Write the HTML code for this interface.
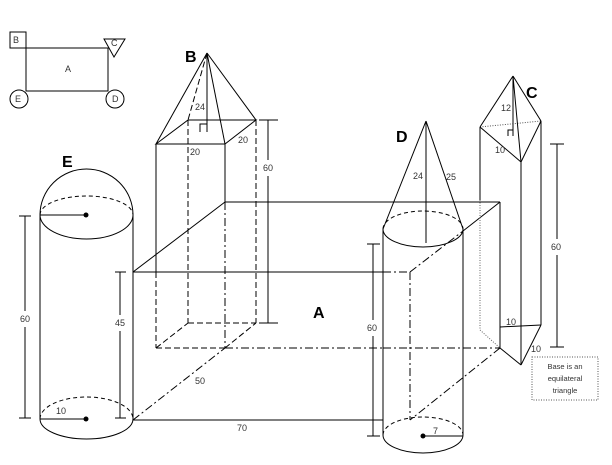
<!DOCTYPE html>
<html><head><meta charset="utf-8"><style>
html,body{margin:0;padding:0;background:#fff;}
svg{display:block;}
text{font-family:"Liberation Sans",sans-serif;fill:#333;}
.s{font-size:9px;}
.b{font-size:16px;font-weight:bold;fill:#000;}
</style></head><body>
<svg width="612" height="465" viewBox="0 0 612 465" xmlns="http://www.w3.org/2000/svg">
<g fill="none" stroke="#000" stroke-width="1">
<!-- legend -->
<rect x="10" y="32" width="16" height="16"/>
<rect x="26" y="48" width="82" height="43"/>
<polygon points="104,39 125,39 114,57"/>
<circle cx="19" cy="99" r="9" fill="#fff"/>
<circle cx="115" cy="99" r="9" fill="#fff"/>

<!-- Box A -->
<line x1="225" y1="202" x2="500" y2="202"/>
<line x1="133" y1="272" x2="225" y2="202"/>
<line x1="133" y1="272" x2="383" y2="272"/>
<line x1="500" y1="202" x2="500" y2="348"/>
<line x1="225" y1="202" x2="225" y2="348" stroke-dasharray="8,3,2,3"/>
<line x1="225" y1="348" x2="383" y2="348" stroke-dasharray="8,3,2,3"/>
<line x1="133" y1="420" x2="225" y2="348" stroke-dasharray="8,3,2,3"/>
<line x1="133" y1="420" x2="383" y2="420"/>

<!-- Prism B -->
<line x1="156" y1="144" x2="156" y2="272"/>
<line x1="156" y1="272" x2="156" y2="348" stroke-dasharray="6,3"/>
<line x1="225" y1="144" x2="225" y2="202"/>
<line x1="225" y1="202" x2="225" y2="348" stroke-dasharray="8,3,2,3"/>
<line x1="188" y1="120" x2="188" y2="323" stroke-dasharray="6,3"/>
<line x1="256" y1="120" x2="256" y2="323" stroke-dasharray="6,3"/>
<line x1="188" y1="323" x2="256" y2="323" stroke-dasharray="6,3"/>
<line x1="156" y1="348" x2="188" y2="323" stroke-dasharray="6,3"/>
<line x1="225" y1="348" x2="256" y2="323" stroke-dasharray="6,3"/>
<line x1="156" y1="348" x2="225" y2="348" stroke-dasharray="6,3"/>
<polygon points="156,144 188,120 256,120 225,144"/>
<line x1="207" y1="53" x2="156" y2="144"/>
<line x1="207" y1="53" x2="256" y2="120"/>
<line x1="207" y1="53" x2="225" y2="144"/>
<line x1="207" y1="53" x2="188" y2="120" stroke-dasharray="6,3"/>
<line x1="207" y1="53" x2="207" y2="132"/>
<polyline points="200,132 200,124 207,124"/>
<line x1="268" y1="120" x2="268" y2="160"/><line x1="268" y1="176" x2="268" y2="323"/>
<line x1="259" y1="120" x2="278" y2="120"/><line x1="259" y1="323" x2="278" y2="323"/>

<!-- Cylinder E -->
<path d="M40,215 A46.5,46 0 0 1 133,215"/>
<path d="M40,215 A46.5,19 0 0 1 133,215" stroke-dasharray="4,3"/>
<path d="M40,215 A46.5,24 0 0 0 133,215"/>
<line x1="40" y1="215" x2="40" y2="419"/>
<line x1="133" y1="215" x2="133" y2="420"/>
<path d="M40,419 A46.5,22 0 0 1 133,419" stroke-dasharray="4,3"/>
<path d="M40,419 A46.5,20 0 0 0 133,419"/>
<line x1="40" y1="215" x2="86" y2="215"/>
<line x1="40" y1="419" x2="86" y2="419"/>
<line x1="25" y1="216" x2="25" y2="311"/><line x1="25" y1="327" x2="25" y2="418"/>
<line x1="19" y1="216" x2="31" y2="216"/><line x1="19" y1="418" x2="31" y2="418"/>
<line x1="120" y1="272" x2="120" y2="315"/><line x1="120" y1="331" x2="120" y2="418"/>
<line x1="115" y1="272" x2="126" y2="272"/><line x1="115" y1="418" x2="126" y2="418"/>

<!-- Cylinder D -->
<path d="M383,229 A40,18 0 0 1 463,229" stroke-dasharray="4,3"/>
<path d="M383,229 A40,18 0 0 0 463,229"/>
<line x1="383" y1="229" x2="383" y2="435"/>
<line x1="463" y1="229" x2="463" y2="435"/>
<path d="M383,435 A40,18 0 0 1 463,435" stroke-dasharray="4,3"/>
<path d="M383,435 A40,18 0 0 0 463,435"/>
<line x1="423" y1="436" x2="463" y2="436"/>
<line x1="426" y1="121" x2="383" y2="229"/>
<line x1="426" y1="121" x2="463" y2="229"/>
<line x1="426" y1="121" x2="426" y2="243"/>
<line x1="410" y1="272" x2="410" y2="420" stroke-dasharray="8,3,2,3"/>
<line x1="383" y1="272" x2="410" y2="272" stroke-dasharray="8,3,2,3"/>
<line x1="383" y1="348" x2="500" y2="348" stroke-dasharray="8,3,2,3"/>
<line x1="410" y1="272" x2="463" y2="231" stroke-dasharray="8,3,2,3"/>
<line x1="463" y1="231" x2="500" y2="202"/>
<line x1="500" y1="348" x2="410" y2="420" stroke-dasharray="8,3,2,3"/>
<line x1="373" y1="244" x2="373" y2="320"/><line x1="373" y1="336" x2="373" y2="436"/>
<line x1="367" y1="244" x2="380" y2="244"/><line x1="367" y1="436" x2="380" y2="436"/>

<!-- Prism C -->
<line x1="480" y1="127" x2="480" y2="200"/>
<line x1="480" y1="200" x2="480" y2="330" stroke="#666" stroke-dasharray="1,1.5"/>
<line x1="541" y1="121" x2="541" y2="325"/>
<line x1="521" y1="162" x2="521" y2="365"/>
<line x1="480" y1="127" x2="541" y2="121" stroke="#555" stroke-dasharray="1,1.5"/>
<line x1="480" y1="127" x2="521" y2="162"/>
<line x1="521" y1="162" x2="541" y2="121"/>
<line x1="513" y1="76" x2="480" y2="127"/>
<line x1="513" y1="76" x2="541" y2="121"/>
<line x1="513" y1="76" x2="521" y2="162"/>
<line x1="513" y1="76" x2="513" y2="136"/>
<polyline points="508,136 508,130 513,130"/>
<line x1="500" y1="327" x2="541" y2="325"/>
<line x1="541" y1="325" x2="521" y2="365"/>
<line x1="500" y1="348" x2="521" y2="365"/>
<line x1="480" y1="330" x2="500" y2="348" stroke="#666" stroke-dasharray="1,1.5"/>
<line x1="557" y1="144" x2="557" y2="239"/><line x1="557" y1="255" x2="557" y2="347"/>
<line x1="550" y1="144" x2="564" y2="144"/><line x1="550" y1="347" x2="564" y2="347"/>
<rect x="532" y="357" width="66" height="43" stroke="#555" stroke-dasharray="1,1.5"/>
</g>
<g fill="#000">
<circle cx="86" cy="215" r="2.5"/><circle cx="86" cy="419" r="2.5"/><circle cx="423" cy="436" r="2.5"/>
</g>
<text class="s" x="13" y="43" font-size="7">B</text>
<text class="s" x="65" y="72">A</text>
<text class="s" x="111" y="46" font-size="7">C</text>
<text class="s" x="15" y="102" font-size="7">E</text>
<text class="s" x="112" y="102" font-size="7">D</text>
<text class="b" x="185" y="62">B</text>
<text class="b" x="62" y="167">E</text>
<text class="b" x="396" y="142">D</text>
<text class="b" x="526" y="98">C</text>
<text class="b" x="313" y="318">A</text>
<text class="s" x="195" y="110">24</text>
<text class="s" x="190" y="155">20</text>
<text class="s" x="238" y="143">20</text>
<text class="s" x="263" y="171">60</text>
<text class="s" x="20" y="322">60</text>
<text class="s" x="115" y="326">45</text>
<text class="s" x="56" y="414">10</text>
<text class="s" x="195" y="384">50</text>
<text class="s" x="237" y="431">70</text>
<text class="s" x="413" y="179">24</text>
<text class="s" x="446" y="180">25</text>
<text class="s" x="367" y="331">60</text>
<text class="s" x="433" y="434">7</text>
<text class="s" x="501" y="111">12</text>
<text class="s" x="495" y="153">10</text>
<text class="s" x="506" y="325">10</text>
<text class="s" x="531" y="352">10</text>
<text class="s" x="551" y="250">60</text>
<text x="565" y="369" font-size="7.5" text-anchor="middle">Base is an</text>
<text x="565" y="381" font-size="7.5" text-anchor="middle">equilateral</text>
<text x="565" y="393" font-size="7.5" text-anchor="middle">triangle</text>
</svg>
</body></html>
